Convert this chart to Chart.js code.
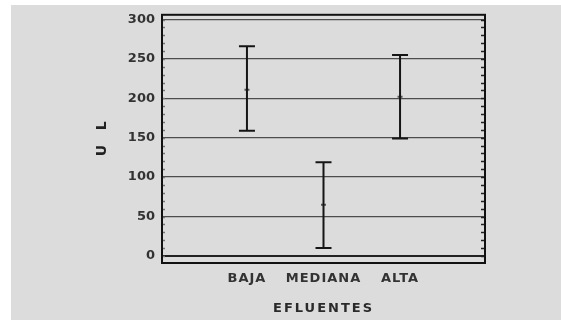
<!DOCTYPE html>
<html><head><meta charset="utf-8">
<script src="https://cdn.jsdelivr.net/npm/chart.js@4"></script>
<style>html,body{margin:0;padding:0;background:#fff;overflow:hidden;}canvas{display:block;}</style>
</head><body>
<canvas id="c" width="561" height="320"></canvas>
<script>
const categories = ['BAJA', 'MEDIANA', 'ALTA'];
const categoryPos = [1, 2, 3];
const means = [211, 65, 202];
const lower = [159, 10, 149];
const upper = [266, 119, 255];
const yTicks = [0, 50, 100, 150, 200, 250, 300];
const yMinorStep = 10;
const yTitle = 'U   L';
const xTitle = 'EFLUENTES';

const FONT = "'DejaVu Sans', sans-serif";

const datasets = categories.map((c, i) => ({
  label: c,
  type: 'line',
  data: [{x: categoryPos[i], y: lower[i]}, {x: categoryPos[i], y: upper[i]}],
  borderColor: '#151515',
  borderWidth: 2,
  showLine: true,
  pointStyle: 'line',
  pointRadius: 8,
  pointBorderWidth: 2,
  pointBorderColor: '#151515',
  pointHoverRadius: 8
}));
datasets.push({
  label: 'media',
  type: 'scatter',
  data: categories.map((c, i) => ({x: categoryPos[i], y: means[i]})),
  pointStyle: 'line',
  pointRadius: 2.5,
  pointBorderWidth: 2,
  pointBorderColor: '#555'
});

const bgPlugin = {
  id: 'bg',
  beforeDraw(chart) {
    const ctx = chart.ctx;
    ctx.save();
    ctx.fillStyle = '#dcdcdc';
    ctx.fillRect(11, 5, chart.width - 11, chart.height - 5);
    ctx.restore();
  },
  afterDraw(chart) {
    const a = chart.chartArea, ctx = chart.ctx, y = chart.scales.y;
    ctx.save();
    // minor tick marks inside the frame
    ctx.lineWidth = 1.5;
    for (let v = 0; v <= y.max; v += yMinorStep) {
      const p = Math.round(y.getPixelForValue(v)) + 0.5;
      ctx.strokeStyle = '#222';
      ctx.beginPath(); ctx.moveTo(a.right, p); ctx.lineTo(a.right - 4, p); ctx.stroke();
      ctx.strokeStyle = '#777';
      ctx.beginPath(); ctx.moveTo(a.left, p); ctx.lineTo(a.left + 3, p); ctx.stroke();
    }
    ctx.strokeStyle = '#111';
    ctx.lineWidth = 2;
    ctx.strokeRect(a.left, a.top, a.right - a.left, a.bottom - a.top);
    ctx.restore();
  }
};

function spaced(scale, ls, lsTitle) {
  const dl = scale.drawLabels, dt = scale.drawTitle;
  if (!scale._wrapped) {
    scale._wrapped = true;
    scale.drawLabels = function(a) { this.ctx.save(); this.ctx.letterSpacing = ls; dl.call(this, a); this.ctx.restore(); };
    scale.drawTitle = function(a) { this.ctx.save(); this.ctx.letterSpacing = lsTitle; dt.call(this, a); this.ctx.restore(); };
  }
}

new Chart(document.getElementById('c'), {
  type: 'scatter',
  data: { datasets },
  options: {
    responsive: false,
    animation: false,
    events: [],
    layout: { padding: { left: 0, right: 76, top: 11, bottom: 0 } },
    plugins: { legend: { display: false }, tooltip: { enabled: false } },
    scales: {
      x: {
        type: 'linear',
        min: -0.11,
        max: 4.11,
        afterBuildTicks(scale) { scale.ticks = categoryPos.map(v => ({ value: v })); },
        afterFit(scale) { scale.height = 57; spaced(scale, '1px', '2px'); },
        grid: { display: false, drawTicks: false },
        border: { display: true, color: '#111', width: 2 },
        ticks: {
          padding: 8,
          color: '#333',
          font: { family: FONT, size: 13, weight: 'bold' },
          maxRotation: 0,
          autoSkip: false,
          callback(v) { const i = categoryPos.indexOf(v); return i >= 0 ? categories[i] : ''; }
        },
        title: {
          display: true,
          text: xTitle,
          color: '#2a2a2a',
          font: { family: FONT, size: 13, weight: 'bold' },
          padding: { top: 0, bottom: 4 }
        }
      },
      y: {
        type: 'linear',
        min: -9,
        max: 306,
        afterBuildTicks(scale) { scale.ticks = yTicks.map(v => ({ value: v })); },
        afterFit(scale) { scale.width = 162; spaced(scale, '0px', '0px'); },
        grid: {
          drawTicks: false,
          color: ctx => ctx.tick && ctx.tick.value === 0 ? '#222' : '#4d4d4d',
          lineWidth: ctx => ctx.tick && ctx.tick.value === 0 ? 2 : 1.3
        },
        border: { display: true, color: '#111', width: 2 },
        ticks: {
          padding: 7,
          color: '#333',
          font: { family: FONT, size: 13, weight: 'bold' }
        },
        title: {
          display: true,
          text: yTitle,
          color: '#222',
          font: { family: FONT, size: 14, weight: 'bold' },
          padding: { top: 94, bottom: 0 }
        }
      }
    }
  },
  plugins: [bgPlugin]
});
</script>
</body></html>
